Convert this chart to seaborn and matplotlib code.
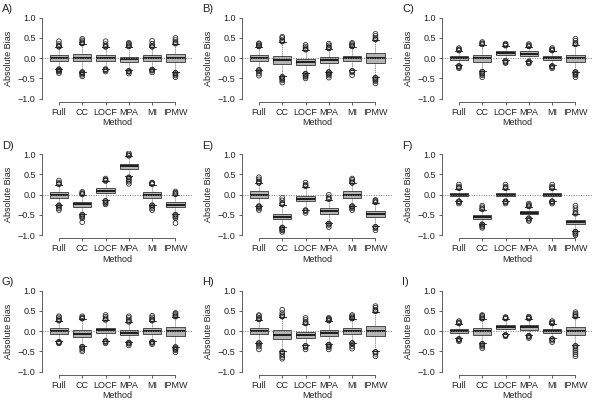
import seaborn as sns
import matplotlib.pyplot as plt
import pandas as pd

# Data (9 panels x 6 methods)
panels = ['A)', 'B)', 'C)', 'D)', 'E)', 'F)', 'G)', 'H)', 'I)']
methods = ['Full', 'CC', 'LOCF', 'MPA', 'MI', 'IPMW']

medians = [
    [0.0, 0.01, 0.0, -0.03, 0.0, 0.0],
    [0.0, -0.05, -0.1, -0.05, 0.0, 0.0],
    [0.0, 0.0, 0.12, 0.11, 0.0, 0.0],
    [0.0, -0.24, 0.1, 0.7, 0.0, -0.25],
    [0.0, -0.54, -0.1, -0.4, 0.0, -0.48],
    [0.0, -0.55, 0.0, -0.44, 0.0, -0.67],
    [0.0, -0.07, 0.02, -0.04, 0.0, 0.0],
    [0.0, -0.1, -0.1, -0.05, 0.0, 0.0],
    [0.0, 0.0, 0.11, 0.1, 0.0, 0.0],
]
q1s = [
    [-0.08, -0.08, -0.07, -0.1, -0.07, -0.1],
    [-0.07, -0.15, -0.17, -0.13, -0.07, -0.13],
    [-0.05, -0.09, 0.07, 0.05, -0.05, -0.1],
    [-0.07, -0.3, 0.04, 0.63, -0.07, -0.31],
    [-0.07, -0.6, -0.16, -0.48, -0.07, -0.56],
    [-0.04, -0.6, -0.04, -0.48, -0.04, -0.72],
    [-0.07, -0.15, -0.05, -0.1, -0.07, -0.12],
    [-0.08, -0.2, -0.16, -0.12, -0.08, -0.13],
    [-0.05, -0.09, 0.05, 0.04, -0.05, -0.1],
]
q3s = [
    [0.08, 0.1, 0.07, 0.03, 0.07, 0.1],
    [0.07, 0.05, -0.03, 0.02, 0.06, 0.12],
    [0.05, 0.09, 0.18, 0.17, 0.05, 0.09],
    [0.07, -0.18, 0.16, 0.77, 0.07, -0.19],
    [0.08, -0.47, -0.03, -0.33, 0.08, -0.4],
    [0.04, -0.5, 0.04, -0.4, 0.04, -0.62],
    [0.07, 0.03, 0.08, 0.03, 0.07, 0.1],
    [0.08, 0.02, -0.03, 0.03, 0.08, 0.12],
    [0.05, 0.08, 0.16, 0.16, 0.05, 0.1],
]
lower_caps = [
    [-0.26, -0.33, -0.26, -0.3, -0.27, -0.35],
    [-0.28, -0.45, -0.37, -0.33, -0.3, -0.47],
    [-0.18, -0.32, -0.05, -0.07, -0.18, -0.33],
    [-0.25, -0.48, -0.14, 0.45, -0.25, -0.48],
    [-0.27, -0.8, -0.37, -0.7, -0.27, -0.78],
    [-0.15, -0.72, -0.15, -0.57, -0.15, -0.9],
    [-0.25, -0.37, -0.23, -0.27, -0.25, -0.38],
    [-0.28, -0.5, -0.35, -0.32, -0.28, -0.5],
    [-0.18, -0.3, -0.08, -0.1, -0.18, -0.35],
]
upper_caps = [
    [0.27, 0.35, 0.27, 0.28, 0.27, 0.35],
    [0.28, 0.4, 0.2, 0.23, 0.28, 0.45],
    [0.18, 0.33, 0.3, 0.28, 0.18, 0.33],
    [0.25, 0.0, 0.33, 0.95, 0.25, 0.0],
    [0.28, -0.25, 0.2, -0.12, 0.28, -0.2],
    [0.15, -0.37, 0.15, -0.3, 0.15, -0.48],
    [0.25, 0.3, 0.27, 0.22, 0.25, 0.35],
    [0.28, 0.35, 0.18, 0.25, 0.3, 0.48],
    [0.18, 0.3, 0.3, 0.3, 0.18, 0.35],
]
low_outliers = [
    [[-0.27, -0.28, -0.3, -0.31, -0.33, -0.37], [-0.34, -0.35, -0.37, -0.38, -0.41, -0.45], [-0.27, -0.28, -0.3, -0.33], [-0.31, -0.32, -0.34, -0.38], [-0.28, -0.29, -0.31, -0.35], [-0.36, -0.37, -0.4, -0.43, -0.47]],
    [[-0.29, -0.3, -0.33, -0.38, -0.43], [-0.46, -0.47, -0.5, -0.52, -0.55, -0.6], [-0.38, -0.39, -0.42, -0.44, -0.46, -0.5], [-0.34, -0.35, -0.38, -0.4, -0.43, -0.48], [-0.31, -0.32, -0.35, -0.42], [-0.48, -0.49, -0.52, -0.54, -0.57, -0.62]],
    [[-0.19, -0.2, -0.22, -0.25], [-0.33, -0.34, -0.37, -0.39, -0.42, -0.47], [-0.06, -0.08, -0.1, -0.12], [-0.08, -0.09, -0.11, -0.13], [-0.19, -0.2, -0.22, -0.25], [-0.34, -0.35, -0.38, -0.4, -0.42, -0.47]],
    [[-0.26, -0.27, -0.3, -0.34, -0.38], [-0.49, -0.5, -0.53, -0.55, -0.58, -0.68], [-0.15, -0.16, -0.19, -0.21, -0.24], [0.43, 0.42, 0.38, 0.35, 0.32, 0.27], [-0.26, -0.27, -0.3, -0.34, -0.38], [-0.49, -0.5, -0.53, -0.55, -0.58, -0.7]],
    [[-0.28, -0.29, -0.31, -0.34, -0.38], [-0.81, -0.82, -0.85, -0.87, -0.88, -0.92], [-0.38, -0.39, -0.41, -0.45], [-0.71, -0.72, -0.75, -0.8], [-0.28, -0.29, -0.31, -0.34, -0.38], [-0.79, -0.8, -0.83, -0.88]],
    [[-0.16, -0.17, -0.19, -0.22], [-0.73, -0.74, -0.77, -0.79, -0.82], [-0.16, -0.17, -0.19, -0.22], [-0.58, -0.59, -0.62, -0.65], [-0.16, -0.17, -0.19, -0.22], [-0.91, -0.92, -0.95, -0.97, -1.0]],
    [[-0.26, -0.27, -0.29, -0.3], [-0.38, -0.39, -0.42, -0.46, -0.5], [-0.24, -0.25, -0.27, -0.3], [-0.28, -0.29, -0.31, -0.35], [-0.26, -0.27, -0.29, -0.32], [-0.39, -0.4, -0.43, -0.45, -0.47, -0.52]],
    [[-0.29, -0.3, -0.33, -0.38, -0.45], [-0.51, -0.52, -0.56, -0.6, -0.64, -0.68], [-0.36, -0.37, -0.4, -0.45], [-0.33, -0.34, -0.37, -0.4, -0.45], [-0.29, -0.3, -0.33, -0.38, -0.43], [-0.51, -0.52, -0.56, -0.62]],
    [[-0.19, -0.2, -0.22, -0.25], [-0.31, -0.32, -0.35, -0.38, -0.42], [-0.09, -0.1, -0.11, -0.13], [-0.11, -0.12, -0.14, -0.17], [-0.19, -0.2, -0.23, -0.27], [-0.36, -0.37, -0.42, -0.47, -0.52, -0.57, -0.62]],
]
high_outliers = [
    [[0.28, 0.29, 0.31, 0.35, 0.42], [0.36, 0.37, 0.4, 0.44, 0.48], [0.28, 0.29, 0.31, 0.35, 0.42], [0.29, 0.3, 0.33, 0.36, 0.38], [0.28, 0.29, 0.31, 0.36, 0.43], [0.36, 0.37, 0.4, 0.45, 0.5]],
    [[0.29, 0.3, 0.32, 0.35, 0.37], [0.41, 0.42, 0.45, 0.5, 0.53], [0.21, 0.22, 0.25, 0.29, 0.33], [0.24, 0.25, 0.28, 0.32, 0.36], [0.29, 0.3, 0.32, 0.35, 0.38], [0.46, 0.47, 0.5, 0.55, 0.6]],
    [[0.19, 0.2, 0.22, 0.25], [0.34, 0.35, 0.37, 0.4], [0.31, 0.32, 0.34, 0.36], [0.29, 0.3, 0.32, 0.35], [0.19, 0.2, 0.22, 0.25], [0.34, 0.35, 0.38, 0.43, 0.48]],
    [[0.26, 0.27, 0.3, 0.35], [0.01, 0.02, 0.04, 0.07], [0.34, 0.35, 0.37, 0.4], [0.96, 0.97, 1.0, 1.03], [0.26, 0.27, 0.29, 0.3], [0.01, 0.02, 0.05, 0.08]],
    [[0.29, 0.3, 0.33, 0.38, 0.43], [-0.24, -0.23, -0.2, -0.14, -0.08], [0.21, 0.22, 0.25, 0.3], [-0.11, -0.1, -0.06, 0.0], [0.29, 0.3, 0.33, 0.37, 0.4], [-0.19, -0.18, -0.15, -0.13]],
    [[0.16, 0.17, 0.2, 0.25], [-0.36, -0.35, -0.31, -0.27], [0.16, 0.17, 0.2, 0.25], [-0.29, -0.28, -0.25, -0.22], [0.16, 0.17, 0.2, 0.25], [-0.47, -0.45, -0.4, -0.33, -0.27]],
    [[0.26, 0.27, 0.3, 0.34, 0.37], [0.31, 0.32, 0.34, 0.37], [0.28, 0.29, 0.32, 0.36, 0.4], [0.23, 0.24, 0.28, 0.33, 0.37], [0.26, 0.27, 0.3, 0.34, 0.38], [0.36, 0.37, 0.4, 0.43, 0.45]],
    [[0.29, 0.3, 0.33, 0.37, 0.4], [0.36, 0.37, 0.4, 0.45, 0.53], [0.19, 0.2, 0.23, 0.28, 0.33], [0.26, 0.27, 0.29, 0.31, 0.33], [0.31, 0.32, 0.34, 0.37, 0.4], [0.49, 0.5, 0.53, 0.58, 0.62]],
    [[0.19, 0.2, 0.22, 0.25], [0.31, 0.32, 0.35, 0.38, 0.4], [0.31, 0.32, 0.33, 0.35], [0.31, 0.32, 0.34, 0.36], [0.19, 0.2, 0.22, 0.25], [0.36, 0.37, 0.4, 0.43, 0.47]],
]

# Build long tables: 5 points per box so quartiles land on the read values
box_rows = []
out_rows = []
for p, name in enumerate(panels):
    for m, meth in enumerate(methods):
        for v in [lower_caps[p][m], q1s[p][m], medians[p][m], q3s[p][m], upper_caps[p][m]]:
            box_rows.append({'panel': name, 'Method': meth, 'value': v})
        for v in low_outliers[p][m] + high_outliers[p][m]:
            out_rows.append({'panel': name, 'Method': meth, 'value': v})
box_df = pd.DataFrame(box_rows)
out_df = pd.DataFrame(out_rows)

sns.set_style('ticks')
plt.rcParams['font.family'] = ['Liberation Sans', 'DejaVu Sans']

W, H = 594, 401
fig = plt.figure(figsize=(W / 100, H / 100), dpi=100)

axis_col = '#444444'
txt_col = '#222222'
fs = 6.5
for p, name in enumerate(panels):
    r, c = divmod(p, 3)
    left_px = 41.7 + 200 * c
    top_px = 14.5 + 136.5 * r
    ax = fig.add_axes([left_px / W, 1 - (top_px + 87.4) / H, 151 / W, 87.4 / H])

    sub = box_df[box_df['panel'] == name]
    sns.boxplot(data=sub, x='Method', y='value', order=methods, ax=ax,
                whis=(0, 100), showfliers=False, width=0.78,
                color='#b4b4b4', saturation=1, linecolor='#333333', linewidth=0.6,
                medianprops={'color': '#111111', 'linewidth': 1.3},
                whiskerprops={'linestyle': (0, (1, 1.5)), 'linewidth': 0.6},
                capprops={'linewidth': 0.8}, capwidths=0.3)

    ax.axhline(0, color='#777777', linestyle=(0, (1, 1.5)), linewidth=0.7, zorder=2.5)

    osub = out_df[out_df['panel'] == name]
    sns.stripplot(data=osub, x='Method', y='value', order=methods, ax=ax,
                  jitter=False, marker='o', size=3.4, color=txt_col,
                  edgecolor=txt_col, linewidth=0.55)
    for coll in ax.collections:
        if len(coll.get_offsets()) > 0:
            coll.set_facecolor('none')
            coll.set_edgecolor(txt_col)

    ax.set_xlim(-0.74, 5.74)
    ax.set_ylim(-1.08, 1.08)
    ax.set_yticks([-1.0, -0.5, 0.0, 0.5, 1.0])
    ax.set_yticklabels(['\u22121.0', '\u22120.5', '0.0', '0.5', '1.0'])
    sns.despine(ax=ax)
    ax.spines['left'].set_bounds(-1.0, 1.0)
    ax.spines['bottom'].set_bounds(0, 5)
    for s in ['left', 'bottom']:
        ax.spines[s].set_color(axis_col)
        ax.spines[s].set_linewidth(0.6)
    ax.tick_params(axis='both', length=2.5, width=0.6, color=axis_col,
                   labelsize=fs, pad=1.8, labelcolor=txt_col)
    ax.set_xlabel('Method', fontsize=fs, labelpad=1, color=txt_col)
    ax.set_ylabel('Absolute Bias', fontsize=fs, labelpad=3.5, color=txt_col)
    ax.set_facecolor('none')

    fig.text((2 + 200 * c) / W, 1 - (12 + 136.5 * r) / H, name, fontsize=8,
             color=txt_col, ha='left', va='baseline')

fig.savefig('out.png', dpi=100)
